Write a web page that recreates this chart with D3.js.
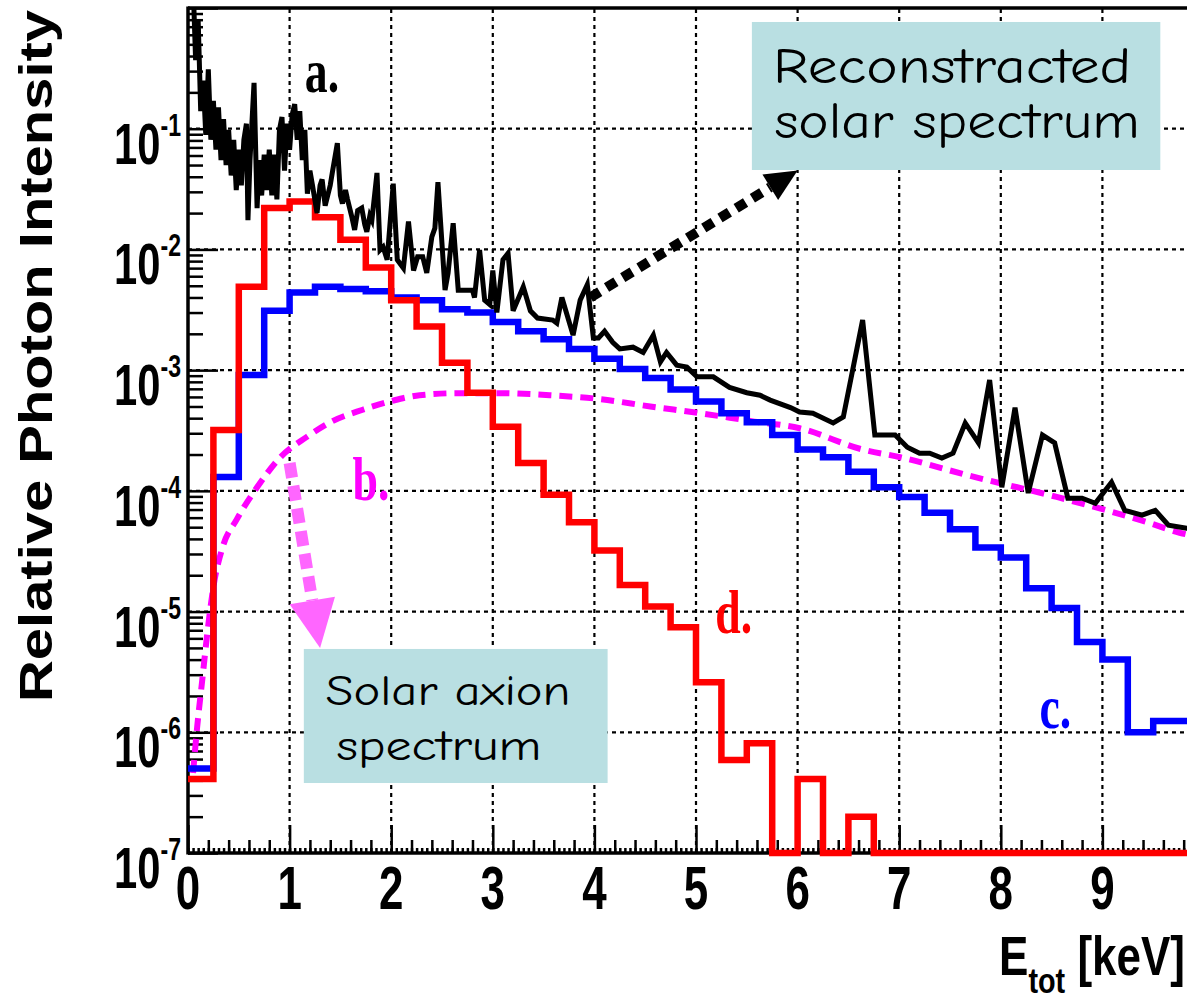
<!DOCTYPE html>
<meta charset="utf-8">
<style>
body { margin: 0; background: #fff; }
svg { display: block; }
.grid line { stroke: #000; stroke-width: 2.2; stroke-dasharray: 4,4; }
.tick line { stroke: #000; stroke-width: 2.5; }
.lab { font-family: "Liberation Sans", Arial, sans-serif; font-weight: bold; fill: #000; }
.note { font-family: "Comic Sans MS", "Comic Neue", "DejaVu Sans", sans-serif; fill: #000; }
.tag { font-family: "Liberation Serif", "Times New Roman", serif; font-weight: bold; }
</style>
<svg width="1187" height="996"></svg>
<script src="https://d3js.org/d3.v7.min.js"></script>
<script>
// axis ticks
var xTicks = [0, 1, 2, 3, 4, 5, 6, 7, 8, 9];
var decades = [-7, -6, -5, -4, -3, -2, -1];
var binWidth = 0.25; // keV, histograms c. and d.

// c. (blue) histogram, 0.25 keV bins from 0 to 10 keV
var blueVals = [5.0e-7, 1.3e-4, 9.1e-4, 3.1e-3, 4.4e-3, 4.9e-3, 4.7e-3, 4.5e-3,
  4.0e-3, 3.8e-3, 3.2e-3, 3.0e-3, 2.5e-3, 2.1e-3, 1.8e-3, 1.5e-3,
  1.24e-3, 1.02e-3, 8.6e-4, 6.9e-4, 5.5e-4, 4.4e-4, 3.7e-4, 2.9e-4,
  2.2e-4, 1.9e-4, 1.44e-4, 1.07e-4, 8.9e-5, 6.6e-5, 4.8e-5, 3.4e-5,
  2.8e-5, 1.56e-5, 1.07e-5, 5.6e-6, 4.0e-6, 1.0e-6, 1.24e-6, 1.24e-6];

// d. (red) histogram, same bins, empty bins are 0
var redVals = [4.1e-7, 3.2e-4, 4.9e-3, 2.2e-2, 2.5e-2, 1.85e-2, 1.2e-2, 7.1e-3,
  3.8e-3, 2.3e-3, 1.15e-3, 6.5e-4, 3.4e-4, 1.7e-4, 9.3e-5, 5.5e-5,
  3.2e-5, 1.66e-5, 1.1e-5, 7.4e-6, 2.6e-6, 5.9e-7, 8.1e-7, 0,
  4.1e-7, 0, 2.0e-7, 0, 0, 0, 0, 0,
  0, 0, 0, 0, 0, 0, 0, 0];

// a. (black) reconstructed solar spectrum
var solarE = [0.05,0.075,0.10,0.125,0.15,0.175,0.20,0.225,0.25,0.275,
  0.30,0.325,0.35,0.375,0.40,0.425,0.45,0.475,0.50,0.525,
  0.55,0.575,0.59,0.61,0.65,0.68,0.70,0.725,0.75,0.775,
  0.80,0.825,0.85,0.875,0.90,0.925,0.95,0.975,1.00,1.025,
  1.05,1.075,1.10,1.125,1.15,1.175,1.20,1.225,
  1.27,1.30,1.32,1.35,1.40,1.42,1.47,
  1.50,1.52,1.55,1.57,1.61,1.64,1.67,1.71,1.74,1.76,
  1.79,1.81,1.86,1.89,1.92,1.96,2.02,2.06,2.12,2.17,
  2.22,2.26,2.31,2.35,2.40,2.43,2.46,2.53,2.56,2.61,
  2.66,2.75,2.80,2.82,2.87,2.92,2.97,3.00,3.04,3.10,
  3.15,3.20,3.30,3.37,3.44,3.59,3.63,3.68,3.79,3.86,
  3.93,3.99,4.04,4.10,4.18,4.25,4.38,4.48,4.58,4.65,
  4.71,4.81,4.91,5.01,5.17,5.33,5.50,5.63,5.73,5.93,
  6.02,6.15,6.35,6.45,6.64,6.76,6.96,7.08,7.20,7.30,
  7.42,7.53,7.65,7.78,7.89,8.01,8.14,8.27,8.41,8.53,
  8.66,8.80,8.93,9.09,9.22,9.39,9.52,9.65,9.83,10.0];
var solarV = [1.6,3.7e-1,8.0e-1,1.4e-1,2.5e-1,8.9e-2,3.1e-1,8.1e-2,1.7e-1,6.7e-2,
  1.5e-1,5.5e-2,1.2e-1,5.0e-2,9.8e-2,4.1e-2,8.1e-2,3.1e-2,6.7e-2,3.4e-2,
  8.1e-2,1.1e-1,1.75e-2,5.5e-2,2.4e-1,2.2e-2,5.5e-2,2.8e-2,6.1e-2,3.1e-2,
  6.7e-2,2.8e-2,6.1e-2,2.6e-2,9.8e-2,1.25e-1,4.5e-2,1.1e-1,6.7e-2,1.3e-1,
  1.6e-1,8.1e-2,1.4e-1,5.5e-2,9.8e-2,2.9e-2,4.5e-2,3.4e-2,
  2.0e-2,3.4e-2,3.8e-2,2.3e-2,3.4e-2,4.3e-2,7.6e-2,
  2.8e-2,2.4e-2,3.1e-2,2.6e-2,1.9e-2,1.45e-2,2.1e-2,2.2e-2,1.6e-2,1.4e-2,
  1.9e-2,1.75e-2,4.3e-2,9.9e-3,1.05e-2,8.2e-3,3.5e-2,8.2e-3,7.0e-3,1.7e-2,
  6.7e-3,8.7e-3,8.7e-3,6.4e-3,1.27e-2,1.5e-2,3.6e-2,4.6e-3,6.4e-3,1.65e-2,
  4.6e-3,4.6e-3,4.6e-3,4.0e-3,9.9e-3,3.8e-3,3.5e-3,6.7e-3,3.0e-3,8.2e-3,
  9.3e-3,3.1e-3,4.9e-3,3.1e-3,2.7e-3,2.6e-3,2.45e-3,4.0e-3,1.95e-3,3.8e-3,
  5.1e-3,1.85e-3,1.85e-3,2.1e-3,1.7e-3,1.5e-3,1.55e-3,1.4e-3,1.95e-3,1.17e-3,
  1.4e-3,1.1e-3,1.06e-3,8.8e-4,8.8e-4,7.2e-4,6.5e-4,6.2e-4,5.65e-4,4.9e-4,
  4.5e-4,4.4e-4,3.65e-4,4.1e-4,2.6e-3,2.9e-4,2.9e-4,2.3e-4,2.05e-4,2.05e-4,
  1.87e-4,2.05e-4,3.65e-4,2.5e-4,8.3e-4,1.07e-4,4.9e-4,9.6e-5,2.9e-4,2.5e-4,
  8.7e-5,8.7e-5,7.9e-5,1.18e-4,6.9e-5,6.3e-5,6.9e-5,5.2e-5,4.9e-5,4.8e-5];

// b. (magenta dashed) solar axion spectrum
var axionE = [0.05,0.09,0.14,0.19,0.25,0.34,0.48,0.68,0.91,1.17,1.40,1.72,2.02,2.28,
  2.68,3.07,3.56,4.06,4.55,5.04,5.53,6.02,6.64,7.01,7.67,8.55,9.44,9.76,10.0];
var axionV = [4.6e-7,1.1e-6,2.7e-6,6.6e-6,1.6e-5,3.4e-5,5.8e-5,1.07e-4,1.9e-4,2.8e-4,3.7e-4,4.7e-4,5.6e-4,6.2e-4,
  6.45e-4,6.45e-4,6.2e-4,5.75e-4,5.0e-4,4.4e-4,3.8e-4,3.3e-4,2.2e-4,1.9e-4,1.35e-4,8.9e-5,5.5e-5,4.5e-5,4.1e-5];

var svg = d3.select("svg"),
    W = +svg.attr("width"),
    H = +svg.attr("height");

var x = d3.scaleLinear().domain([0, 10]).range([188, 1204]);
var y = d3.scaleLog().domain([1e-7, 1]).range([853, 8]);
var floorV = y.domain()[0];
var squeeze = 0.72; // the bold labels are narrow in the original

svg.append("rect").attr("width", W).attr("height", H).attr("fill", "#fff");

svg.append("defs").append("clipPath").attr("id", "frame")
  .append("rect")
    .attr("x", x(0)).attr("y", y(1))
    .attr("width", x(10) - x(0))
    .attr("height", y(floorV) - y(1) + 6);

// grid
var grid = svg.append("g").attr("class", "grid");
grid.selectAll(".gx").data(xTicks.filter(function(d) { return d > 0; }))
  .enter().append("line")
    .attr("x1", function(d) { return x(d); }).attr("x2", function(d) { return x(d); })
    .attr("y1", y(floorV)).attr("y2", y(1));
grid.selectAll(".gy").data(decades.filter(function(d) { return d > -7; }))
  .enter().append("line")
    .attr("x1", x(0)).attr("x2", x(10))
    .attr("y1", function(d) { return y(Math.pow(10, d)); })
    .attr("y2", function(d) { return y(Math.pow(10, d)); });

// ticks
function noDomain(g) { g.select(".domain").remove(); }
var majorY = d3.range(-7, 1).map(function(e) { return Math.pow(10, e); });
var minorY = [];
d3.range(-7, 0).forEach(function(e) {
  for (var k = 2; k < 10; k++) minorY.push(k * Math.pow(10, e));
});
svg.append("g").attr("transform", "translate(" + x(0) + ",0)")
  .call(d3.axisLeft(y).tickValues(majorY).tickSize(-30).tickFormat("")).call(noDomain);
svg.append("g").attr("transform", "translate(" + x(0) + ",0)")
  .call(d3.axisLeft(y).tickValues(minorY).tickSize(-15).tickFormat("")).call(noDomain);

var majorX = d3.range(0, 11);
var minorX = d3.range(0, 50).map(function(i) { return i * 0.2; })
  .filter(function(v) { return Math.abs(v - Math.round(v)) > 1e-6; });
var tinyX = d3.range(0, 200).map(function(i) { return i * 0.05; });
[[majorX, -28], [minorX, -13], [tinyX, -5]].forEach(function(t) {
  svg.append("g").attr("transform", "translate(0," + y(floorV) + ")")
    .call(d3.axisBottom(x).tickValues(t[0]).tickSize(t[1]).tickFormat("")).call(noDomain);
});

// frame (curves are drawn over it, as in the original)
var frame = svg.append("g").attr("stroke", "#000").attr("stroke-width", 3.5);
frame.append("line").attr("x1", x(0)).attr("x2", x(0)).attr("y1", y(1) - 1.5).attr("y2", y(floorV) + 1.5);
frame.append("line").attr("x1", x(0)).attr("x2", x(10)).attr("y1", y(floorV)).attr("y2", y(floorV));
frame.append("line").attr("x1", x(0)).attr("x2", x(10)).attr("y1", y(1)).attr("y2", y(1));

// tick labels
svg.selectAll(".xl").data(xTicks).enter().append("g")
    .attr("transform", function(d) { return "translate(" + x(d) + ",909) scale(" + squeeze + ",1)"; })
  .append("text")
    .attr("class", "lab")
    .attr("text-anchor", "middle")
    .attr("font-size", 61)
    .text(function(d) { return d; });

var yl = svg.selectAll(".yl").data(decades).enter().append("g")
    .attr("transform", function(d) { return "translate(181," + (y(Math.pow(10, d)) + 35) + ") scale(" + squeeze + ",1)"; })
  .append("text")
    .attr("class", "lab")
    .attr("text-anchor", "end")
    .attr("font-size", 58);
yl.append("tspan").text("10");
yl.append("tspan").attr("font-size", 32).attr("dy", -28).text(function(d) { return d; });

// axis titles
svg.append("text")
    .attr("class", "lab")
    .attr("transform", "translate(52,356) rotate(-90)")
    .attr("text-anchor", "middle")
    .attr("font-size", 47)
    .attr("textLength", 692)
    .attr("lengthAdjust", "spacingAndGlyphs")
    .text("Relative Photon Intensity");

var xt = svg.append("g").attr("transform", "translate(1185,975) scale(0.8,1)")
  .append("text").attr("class", "lab").attr("text-anchor", "end").attr("font-size", 55);
xt.append("tspan").text("E");
xt.append("tspan").attr("font-size", 36).attr("dy", 18).text("tot");
xt.append("tspan").attr("dy", -18).text(" [keV]");

// curves
var plot = svg.append("g").attr("clip-path", "url(#frame)");

function hist(vals) {
  var pts = vals.map(function(v, i) { return [i * binWidth, Math.max(v, floorV)]; });
  pts.push([vals.length * binWidth, Math.max(vals[vals.length - 1], floorV)]);
  return pts;
}
var line = d3.line().x(function(d) { return x(d[0]); }).y(function(d) { return y(d[1]); });

plot.append("path")
    .datum(axionE.map(function(e, i) { return [e, axionV[i]]; }))
    .attr("d", line.curve(d3.curveMonotoneX))
    .attr("fill", "none").attr("stroke", "#ff00ff")
    .attr("stroke-width", 6).attr("stroke-dasharray", "13,8");

plot.append("path")
    .datum(hist(blueVals))
    .attr("d", line.curve(d3.curveStepAfter))
    .attr("fill", "none").attr("stroke", "#0000ff").attr("stroke-width", 6.5);

plot.append("path")
    .datum(hist(redVals))
    .attr("d", line.curve(d3.curveStepAfter))
    .attr("fill", "none").attr("stroke", "#ff0000").attr("stroke-width", 6.5);

plot.append("path")
    .datum(solarE.map(function(e, i) { return [e, solarV[i]]; }))
    .attr("d", line.curve(d3.curveLinear))
    .attr("fill", "none").attr("stroke", "#000").attr("stroke-width", 5)
    .attr("stroke-linejoin", "miter");

// curve tags
[["a.", 1.15, 0.2, "#000"], ["b.", 1.62, 8.4e-5, "#ff00ff"],
 ["c.", 8.38, 1.08e-6, "#0000ff"], ["d.", 5.19, 6.6e-6, "#ff0000"]].forEach(function(t) {
  svg.append("g").attr("transform", "translate(" + x(t[1]) + "," + y(t[2]) + ") scale(0.75,1)")
    .append("text").attr("class", "tag").attr("font-size", 61).attr("fill", t[3]).text(t[0]);
});

// arrows
function arrow(from, to, color, w, dash, headLen, headHalf) {
  var p0 = [x(from[0]), y(from[1])], p1 = [x(to[0]), y(to[1])];
  var dx = p1[0] - p0[0], dy = p1[1] - p0[1], L = Math.hypot(dx, dy);
  var ux = dx / L, uy = dy / L;
  var bx = p1[0] - ux * headLen, by = p1[1] - uy * headLen;
  svg.append("line")
    .attr("x1", p0[0]).attr("y1", p0[1]).attr("x2", bx).attr("y2", by)
    .attr("stroke", color).attr("stroke-width", w).attr("stroke-dasharray", dash);
  svg.append("path")
    .attr("d", "M" + p1 + "L" + [bx - uy * headHalf, by + ux * headHalf] + "L" + [bx + uy * headHalf, by - ux * headHalf] + "Z")
    .attr("fill", color);
}
arrow([3.96, 4.0e-3], [6.0, 4.5e-2], "#000", 10, "11,8", 32, 15);
arrow([1.0, 1.7e-4], [1.30, 5.0e-6], "#ff66ff", 12, "15,8", 48, 23);

// note boxes
function note(x0, x1, v0, v1, lines) {
  svg.append("rect")
    .attr("x", x(x0)).attr("y", y(v0))
    .attr("width", x(x1) - x(x0)).attr("height", y(v1) - y(v0))
    .attr("fill", "#b9dfe2");
  lines.forEach(function(l) {
    svg.append("text").attr("class", "note")
      .attr("x", x(l.e)).attr("y", y(l.v))
      .attr("text-anchor", "middle")
      .attr("font-size", l.size)
      .attr("textLength", l.len).attr("lengthAdjust", "spacingAndGlyphs")
      .text(l.t);
  });
}
note(5.55, 9.57, 0.766, 0.0455, [
  {t: "Reconstracted", e: 7.52, v: 0.239, size: 50, len: 358},
  {t: "solar spectrum", e: 7.57, v: 0.0838, size: 50, len: 365}]);
note(1.14, 4.13, 4.9e-6, 3.8e-7, [
  {t: "Solar axion", e: 2.56, v: 1.68e-6, size: 42, len: 245},
  {t: "spectrum", e: 2.47, v: 5.9e-7, size: 42, len: 205}]);
</script>
